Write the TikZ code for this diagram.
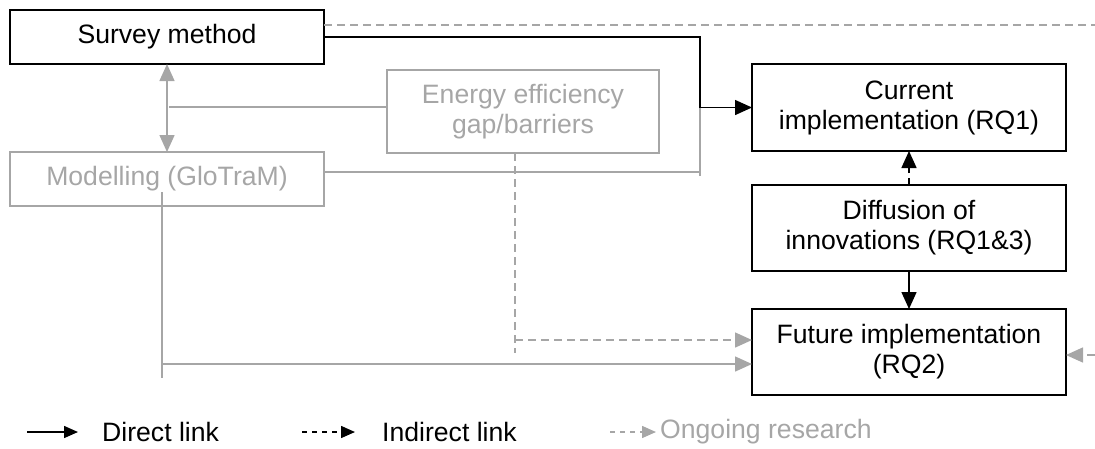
\documentclass[tikz,border=0pt]{standalone}
\usepackage{fontspec}
\setmainfont{Liberation Sans}
\usetikzlibrary{arrows.meta}
\definecolor{lg}{HTML}{A6A6A6}
\begin{document}
\begin{tikzpicture}[x=1pt,y=-1pt,
  every node/.style={font=\fontsize{26.6}{30}\selectfont},
  bbox/.style={draw=black,line width=1.3pt,align=center,inner sep=0pt,outer sep=0pt},
  gbox/.style={draw=lg,text=lg,line width=1.3pt,align=center,inner sep=0pt,outer sep=0pt},
  tip/.style={-{Triangle[length=17pt,width=15pt]}},
  direct/.style={draw=black,line width=1.5pt,tip},
  indirect/.style={draw=black,line width=1.5pt,dash pattern=on 7pt off 5pt,tip},
  glink/.style={draw=lg,line width=1.5pt},
  garrow/.style={glink,tip},
  gdash/.style={draw=lg,line width=1.5pt,dash pattern=on 8pt off 5pt},
  gdasharrow/.style={gdash,tip},
  legtip/.style={-{Triangle[length=14pt,width=12pt]}},
  legdirect/.style={draw=black,line width=1.5pt,legtip},
  legindirect/.style={draw=black,line width=1.5pt,dash pattern=on 5pt off 5pt,legtip},
  legongoing/.style={draw=lg,line width=1.5pt,dash pattern=on 5pt off 5pt,legtip}
]
\useasboundingbox (0,0) rectangle (1095,448);

% boxes
\node[bbox,minimum width=314pt,minimum height=54pt] (survey) at (167,37) {Survey method};
\node[gbox,minimum width=314pt,minimum height=54pt] (model) at (167,179) {Modelling (GloTraM)};
\node[gbox,minimum width=272pt,minimum height=83pt] (energy) at (523,111.5) {Energy efficiency\\gap/barriers};
\node[bbox,minimum width=314pt,minimum height=87pt] (current) at (909,107.5) {Current\\implementation (RQ1)};
\node[bbox,minimum width=314pt,minimum height=86pt] (diffusion) at (909,228) {Diffusion of\\innovations (RQ1\&3)};
\node[bbox,minimum width=314pt,minimum height=86pt] (future) at (909,352) {Future implementation\\(RQ2)};

% helper coordinates
\coordinate (j) at (700,107.5);
\coordinate (mj) at (700,172);
\coordinate (mjb) at (700,176);
\coordinate (sm) at (169,107);
\coordinate (e1) at (515,353);
\coordinate (e2) at (515,340);
\coordinate (m1) at (162,192);
\coordinate (m2) at (162,378);
\coordinate (m3) at (162,364);
\coordinate (tr) at (1095,25);
\coordinate (rr) at (1095,355);

% gray links
\draw[gdash] (tr -| survey.east) -- (tr);
\draw[glink] (model.east |- mj) -- (mj);
\draw[glink] (mjb) -- (j);
\draw[glink,{Triangle[length=17pt,width=15pt]}-{Triangle[length=17pt,width=15pt]}] (survey.south) -- (model.north);
\draw[glink] (sm) -- (sm -| energy.west);
\draw[gdash] (e1 |- energy.south) -- (e1);
\draw[gdasharrow] (e2) -- (e2 -| future.west);
\draw[glink] (m1) -- (m2);
\draw[garrow] (m3) -- (m3 -| future.west);
\draw[gdasharrow] (rr) -- (rr -| future.east);

% black links
\draw[direct] (survey.east) -| (j) -- (current.west);
\draw[indirect] (diffusion.north) -- (current.south);
\draw[direct] (diffusion.south) -- (future.north);

% legend
\coordinate (l1a) at (27,432);
\coordinate (l1b) at (78,432);
\coordinate (l2a) at (302,432);
\coordinate (l2b) at (355,432);
\coordinate (l3a) at (610,432);
\coordinate (l3b) at (656,432);
\draw[legdirect] (l1a) -- (l1b);
\draw[legindirect] (l2a) -- (l2b);
\draw[legongoing] (l3a) -- (l3b);
\node[anchor=west,inner sep=0pt] (t1) at (102,432) {Direct link};
\node[anchor=west,inner sep=0pt] (t2) at (382,432) {Indirect link};
\node[anchor=west,inner sep=0pt,text=lg] (t3) at (660,432) {Ongoing research};
\end{tikzpicture}
\end{document}
